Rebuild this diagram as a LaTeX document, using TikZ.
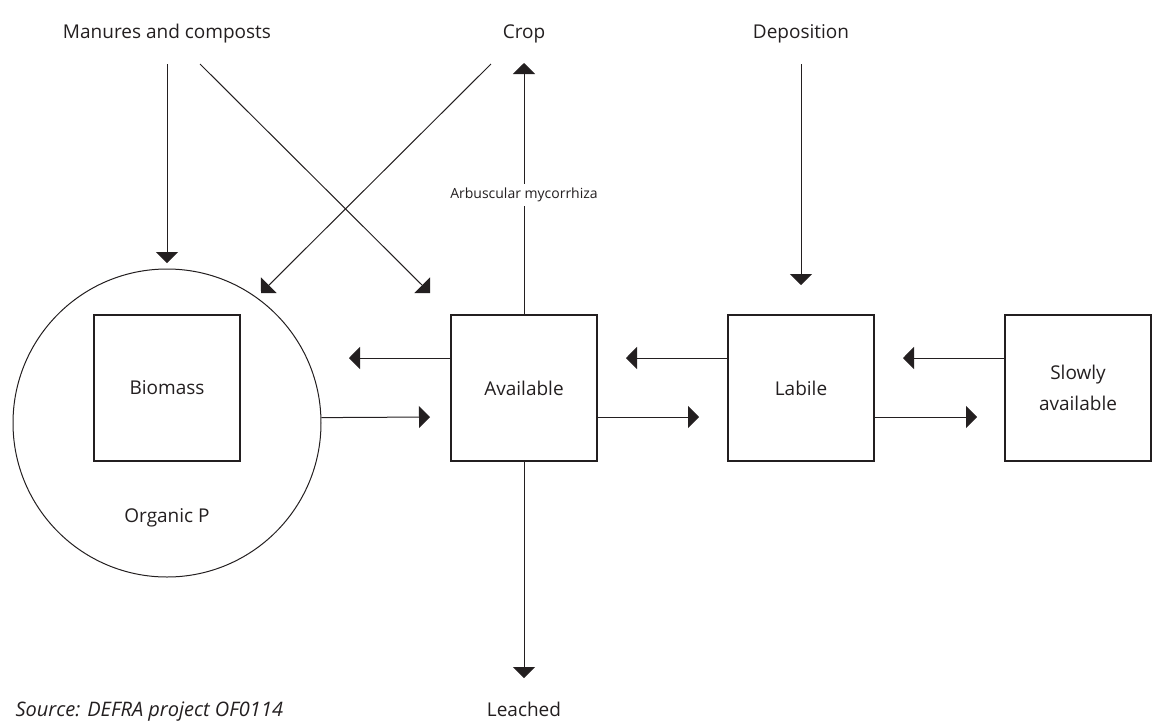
\documentclass[tikz,border=0pt]{standalone}
\usepackage{fontspec}
\setmainfont{Open Sans}
\usetikzlibrary{arrows.meta}
\definecolor{ink}{HTML}{231F20}
\begin{document}
\begin{tikzpicture}[x=0.75pt,y=-0.75pt,
  every node/.style={text=ink,font=\fontsize{14.25}{23.25}\selectfont},
  pool/.style={draw=ink,line width=1.5pt,minimum size=109.5pt,inner sep=0pt,align=center},
  flow/.style={draw=ink,line width=0.75pt,-{Triangle[length=8.25pt,width=16.5pt]}},
  toplabel/.style={anchor=base}]
\useasboundingbox (0,0) rectangle (1161,722);

% pools
\node[draw=ink,line width=0.75pt,circle,minimum size=231pt,inner sep=0pt] (organic) at (167,423) {};
\node[pool] (biomass) at (167,388) {Biomass};
\node[anchor=base] (orgtext) at (167,522) {Organic P};
\node[pool] (avail) at (524,388) {Available};
\node[pool] (labile) at (801,388) {Labile};
\node[pool] (slow) at (1078,388) {Slowly\\available};

% sources and sinks
\node[toplabel] (manure) at (167,38) {Manures and composts};
\node[toplabel] (crop) at (524,38) {Crop};
\node[toplabel] (depo) at (801,38) {Deposition};
\node[anchor=base,inner sep=1pt] (leach) at (524,716) {Leached};
\node[anchor=base west,inner sep=1pt,font=\fontsize{15}{17}\selectfont\itshape] (src) at (14,716) {Source: DEFRA project OF0114};

% free ends of the connectors
\coordinate (manA) at (167,64);
\coordinate (manB) at (200,64);
\coordinate (cropA) at (491,64);
\coordinate (depA) at (801,64);
\coordinate (tipManOrg) at (167,263);
\coordinate (tipManAv) at (430,293);
\coordinate (tipCropOrg) at (261,293);
\coordinate (tipDep) at (801,285);
\coordinate (tipCrop) at (524,63);
\coordinate (tipLeach) at (524,678);
\coordinate (tipOrgL) at (349,358);
\coordinate (tipAvR) at (430,417);
\coordinate (tipAvL) at (626,358);
\coordinate (tipLabR) at (699,417);
\coordinate (tipLabL) at (903,358);
\coordinate (tipSlowR) at (977,417);

% inputs
\draw[flow] (manA) -- (tipManOrg);
\draw[flow] (manB) -- (tipManAv);
\draw[flow] (cropA) -- (tipCropOrg);
\draw[flow] (depA) -- (tipDep);

% uptake and losses
\draw[flow] (avail.north) -- node[pos=0.476,fill=white,inner sep=3pt,font=\fontsize{10.5}{12}\selectfont] (myco) {Arbuscular mycorrhiza} (tipCrop);
\draw[flow] (avail.south) -- (tipLeach);

% exchanges between pools
\draw[flow] (avail.west |- tipOrgL) -- (tipOrgL);
\draw[flow] (organic.2.2) -- (tipAvR);
\draw[flow] (labile.west |- tipAvL) -- (tipAvL);
\draw[flow] (avail.east |- tipLabR) -- (tipLabR);
\draw[flow] (slow.west |- tipLabL) -- (tipLabL);
\draw[flow] (labile.east |- tipSlowR) -- (tipSlowR);
\end{tikzpicture}
\end{document}
